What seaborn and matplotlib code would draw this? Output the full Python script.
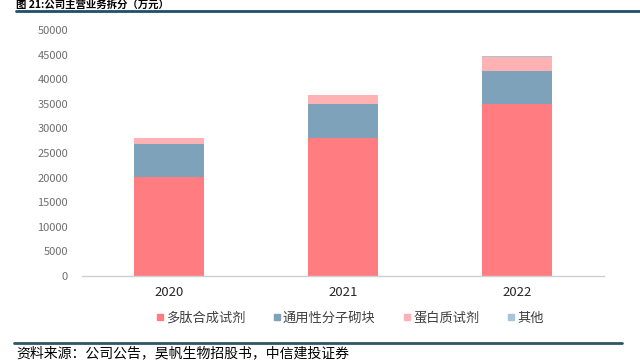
import matplotlib
matplotlib.use("Agg")
import matplotlib.pyplot as plt
import seaborn as sns
import numpy as np
import pandas as pd
from matplotlib.lines import Line2D

years = ["2020", "2021", "2022"]
series_names = ["多肽合成试剂", "通用性分子砌块", "蛋白质试剂", "其他"]
peptide = [20200, 28000, 34900]
building_blocks = [6600, 7000, 6800]
protein = [1200, 1800, 2900]
other = [30, 40, 50]
yticks = [0, 5000, 10000, 15000, 20000, 25000, 30000, 35000, 40000, 45000, 50000]

colors = ["#FF7C80", "#7FA2BB", "#FFB2B4", "#A9C3D8"]

sns.set_theme(style="white")
plt.rcParams["font.family"] = ["Noto Sans CJK SC", "DejaVu Sans"]

fig = plt.figure(figsize=(6.4, 3.62), dpi=100)
W, H = 640, 362
ax = fig.add_axes([82 / W, 1 - 276 / H, (604 - 82) / W, (276 - 30) / H])

layers = [peptide, building_blocks, protein, other]
cum = np.cumsum(np.array(layers), axis=0)
df = pd.DataFrame({"year": years})
# draw from top layer down so lower layers overlay
for i in range(len(layers) - 1, -1, -1):
    df["v"] = cum[i]
    sns.barplot(data=df, x="year", y="v", color=colors[i], width=0.40,
                saturation=1, ax=ax, edgecolor="none", linewidth=0)

ax.set_ylim(0, 50000)
ax.set_xlim(-0.5, 2.5)
ax.set_yticks(yticks)
ax.set_yticklabels([str(t) for t in yticks], fontsize=8, color="#6E6E6E")
ax.tick_params(axis="x", labelsize=9.5, colors="#262626", length=0, pad=7)
ax.tick_params(axis="y", length=0, pad=10)
ax.set_xlabel("")
ax.set_ylabel("")
for s in ["top", "right", "left"]:
    ax.spines[s].set_visible(False)
ax.spines["bottom"].set_color("#D0D0D0")
ax.spines["bottom"].set_linewidth(1)

handles = [Line2D([0], [0], marker="s", linestyle="none", markersize=4.5,
                  markerfacecolor=c, markeredgecolor=c) for c in colors]
fig.legend(handles, series_names, loc="center", bbox_to_anchor=(349 / W, 1 - 318 / H),
           ncol=4, frameon=False, fontsize=9.5, handletextpad=0.05, columnspacing=2.0,
           handlelength=0.8, labelcolor="#404040")

# title and rules
fig.text(16 / W, 1 - 10 / H, "图 21:公司主营业务拆分（万元）", fontsize=7.5, fontweight="bold",
         va="bottom", ha="left", color="#000000")
fig.add_artist(Line2D([16 / W, 1.0], [1 - 11 / H, 1 - 11 / H], color="#1F4E6B", linewidth=2))
fig.add_artist(Line2D([14 / W, 622 / W], [1 - 343 / H, 1 - 343 / H], color="#2E5566", linewidth=2))
fig.text(16 / W, 1 - 353 / H, "资料来源：公司公告，昊帆生物招股书，中信建投证券", fontsize=10,
         va="center", ha="left", color="#000000", style="italic")

fig.savefig("out.png", dpi=100)
